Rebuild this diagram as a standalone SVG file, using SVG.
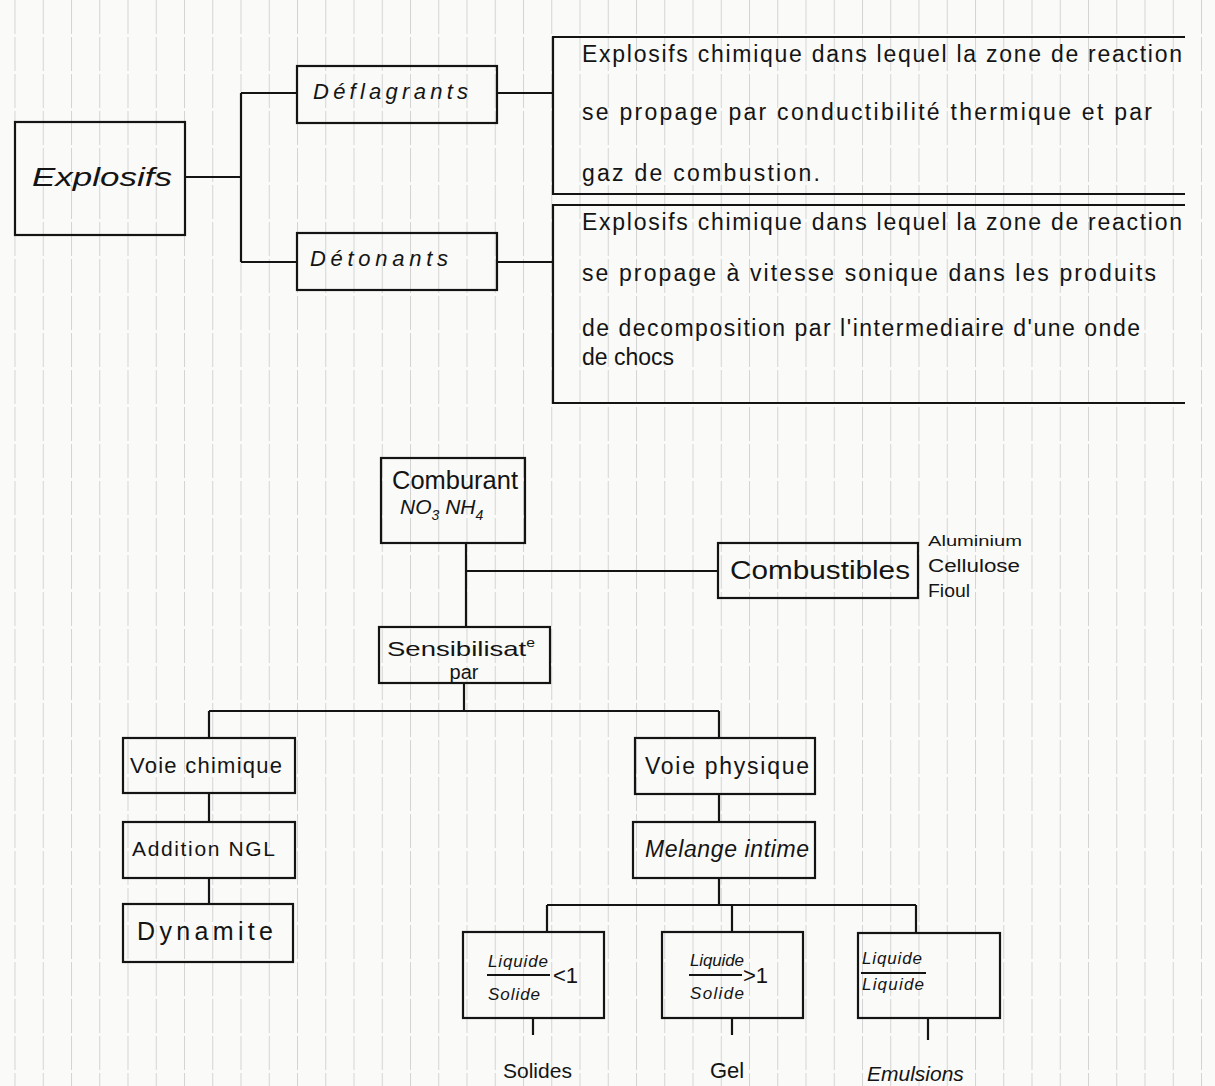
<svg xmlns="http://www.w3.org/2000/svg" width="1215" height="1086" viewBox="0 0 1215 1086">
<style>
.box{fill:none;stroke:#141414;stroke-width:2.2}
.ln{fill:none;stroke:#141414;stroke-width:2.2}
.t{font-family:"Liberation Sans","DejaVu Sans",sans-serif;fill:#141414}
.i{font-style:italic}
</style>
<defs>
<pattern id="ruling" x="14.5" y="0" width="28.25" height="1086" patternUnits="userSpaceOnUse">
<line x1="0.5" y1="0" x2="0.5" y2="1086" stroke="#d4d4d4" stroke-width="1" stroke-dasharray="34 3"/>
</pattern>
</defs>
<rect x="0" y="0" width="1215" height="1086" fill="#fafaf8"/>
<rect x="0" y="0" width="1215" height="1086" fill="url(#ruling)"/>

<g id="connectors">
<path class="ln" d="M185 177 H241 M241 93 V262 M241 93 H297 M241 262 H297"/>
<path class="ln" d="M497 93 H553 M497 262 H553"/>
<path class="ln" d="M466 543 V627 M466 571 H718"/>
<path class="ln" d="M464 683 V711 M209 711 H719 M209 711 V738 M719 711 V738"/>
<path class="ln" d="M209 793 V822 M209 878 V904"/>
<path class="ln" d="M719 794 V822 M719 878 V905 M547 905 H916 M547 905 V932 M732 905 V932 M916 905 V932"/>
<path class="ln" d="M533 1018 V1035 M732 1018 V1035 M928 1018 V1040"/>
</g>

<g id="explosifs">
<rect class="box" x="15" y="122" width="170" height="113"/>
<text class="t i" x="32" y="186" font-size="26" textLength="140" lengthAdjust="spacingAndGlyphs">Explosifs</text>
</g>
<g id="deflagrants">
<rect class="box" x="297" y="66" width="200" height="57"/>
<text class="t i" x="313" y="99" font-size="22" textLength="155" lengthAdjust="spacing">Déflagrants</text>
</g>
<g id="detonants">
<rect class="box" x="297" y="233" width="200" height="57"/>
<text class="t i" x="310" y="266" font-size="22" textLength="138" lengthAdjust="spacing">Détonants</text>
</g>
<g id="def-deflagrants">
<path class="box" d="M1185 37 H553 V194 H1185"/>
<text class="t" x="582" y="62" font-size="23" textLength="600" lengthAdjust="spacing">Explosifs chimique dans lequel la zone de reaction</text>
<text class="t" x="582" y="120" font-size="23" textLength="570" lengthAdjust="spacing">se propage par conductibilité thermique et par</text>
<text class="t" x="582" y="181" font-size="23" textLength="238" lengthAdjust="spacing">gaz de combustion.</text>
</g>
<g id="def-detonants">
<path class="box" d="M1185 205 H553 V403 H1185"/>
<text class="t" x="582" y="230" font-size="23" textLength="600" lengthAdjust="spacing">Explosifs chimique dans lequel la zone de reaction</text>
<text class="t" x="582" y="281" font-size="23" textLength="574" lengthAdjust="spacing">se propage à vitesse sonique dans les produits</text>
<text class="t" x="582" y="336" font-size="23" textLength="558" lengthAdjust="spacing">de decomposition par l'intermediaire d'une onde</text>
<text class="t" x="582" y="365" font-size="23">de chocs</text>
</g>

<g id="comburant">
<rect class="box" x="381" y="458" width="144" height="85"/>
<text class="t" x="392" y="489" font-size="25" textLength="126" lengthAdjust="spacingAndGlyphs">Comburant</text>
<text class="t i" x="400" y="514" font-size="21">NO<tspan dy="6" font-size="14">3</tspan><tspan dy="-6"> NH</tspan><tspan dy="6" font-size="14">4</tspan></text>
</g>
<g id="combustibles">
<rect class="box" x="718" y="543" width="200" height="55"/>
<text class="t" x="730" y="579" font-size="26" textLength="180" lengthAdjust="spacingAndGlyphs">Combustibles</text>
<text class="t" x="928" y="546" font-size="15" textLength="94" lengthAdjust="spacingAndGlyphs">Aluminium</text>
<text class="t" x="928" y="572" font-size="18" textLength="92" lengthAdjust="spacingAndGlyphs">Cellulose</text>
<text class="t" x="928" y="597" font-size="18" textLength="42" lengthAdjust="spacingAndGlyphs">Fioul</text>
</g>
<g id="sensibilisation">
<rect class="box" x="379" y="627" width="171" height="56"/>
<text class="t" x="387" y="656" font-size="21" textLength="148" lengthAdjust="spacingAndGlyphs">Sensibilisat<tspan dy="-9" font-size="12">e</tspan></text>
<text class="t" x="464" y="679" font-size="20" text-anchor="middle">par</text>
</g>

<g id="voie-chimique">
<rect class="box" x="123" y="738" width="172" height="55"/>
<text class="t" x="130" y="773" font-size="22" textLength="152" lengthAdjust="spacing">Voie chimique</text>
</g>
<g id="addition-ngl">
<rect class="box" x="123" y="822" width="172" height="56"/>
<text class="t" x="132" y="856" font-size="21" textLength="143" lengthAdjust="spacing">Addition NGL</text>
</g>
<g id="dynamite">
<rect class="box" x="123" y="904" width="170" height="58"/>
<text class="t" x="137" y="940" font-size="25" textLength="136" lengthAdjust="spacing">Dynamite</text>
</g>

<g id="voie-physique">
<rect class="box" x="635" y="738" width="180" height="56"/>
<text class="t" x="645" y="774" font-size="23" textLength="164" lengthAdjust="spacing">Voie physique</text>
</g>
<g id="melange-intime">
<rect class="box" x="633" y="822" width="182" height="56"/>
<text class="t i" x="645" y="857" font-size="23" textLength="164" lengthAdjust="spacing">Melange intime</text>
</g>

<g id="ratio-lt1">
<rect class="box" x="463" y="932" width="141" height="86"/>
<text class="t i" x="488" y="967" font-size="17" textLength="60" lengthAdjust="spacing">Liquide</text>
<line class="ln" x1="487" y1="975" x2="550" y2="975" stroke-width="1.6"/>
<text class="t" x="553" y="983" font-size="22">&lt;1</text>
<text class="t i" x="488" y="1000" font-size="17" textLength="52" lengthAdjust="spacing">Solide</text>
</g>
<g id="ratio-gt1">
<rect class="box" x="662" y="932" width="141" height="86"/>
<text class="t i" x="690" y="966" font-size="17" textLength="54" lengthAdjust="spacing">Liquide</text>
<line class="ln" x1="689" y1="975" x2="742" y2="975" stroke-width="1.6"/>
<text class="t" x="743" y="983" font-size="22">&gt;1</text>
<text class="t i" x="690" y="999" font-size="17" textLength="54" lengthAdjust="spacing">Solide</text>
</g>
<g id="ratio-ll">
<rect class="box" x="858" y="933" width="142" height="85"/>
<text class="t i" x="862" y="964" font-size="17" textLength="60" lengthAdjust="spacing">Liquide</text>
<line class="ln" x1="861" y1="973" x2="926" y2="973" stroke-width="1.6"/>
<text class="t i" x="862" y="990" font-size="17" textLength="62" lengthAdjust="spacing">Liquide</text>
</g>

<g id="solides">
<text class="t" x="503" y="1078" font-size="21">Solides</text>
</g>
<g id="gel">
<text class="t" x="710" y="1078" font-size="22">Gel</text>
</g>
<g id="emulsions">
<text class="t i" x="867" y="1081" font-size="21">Emulsions</text>
</g>
</svg>
